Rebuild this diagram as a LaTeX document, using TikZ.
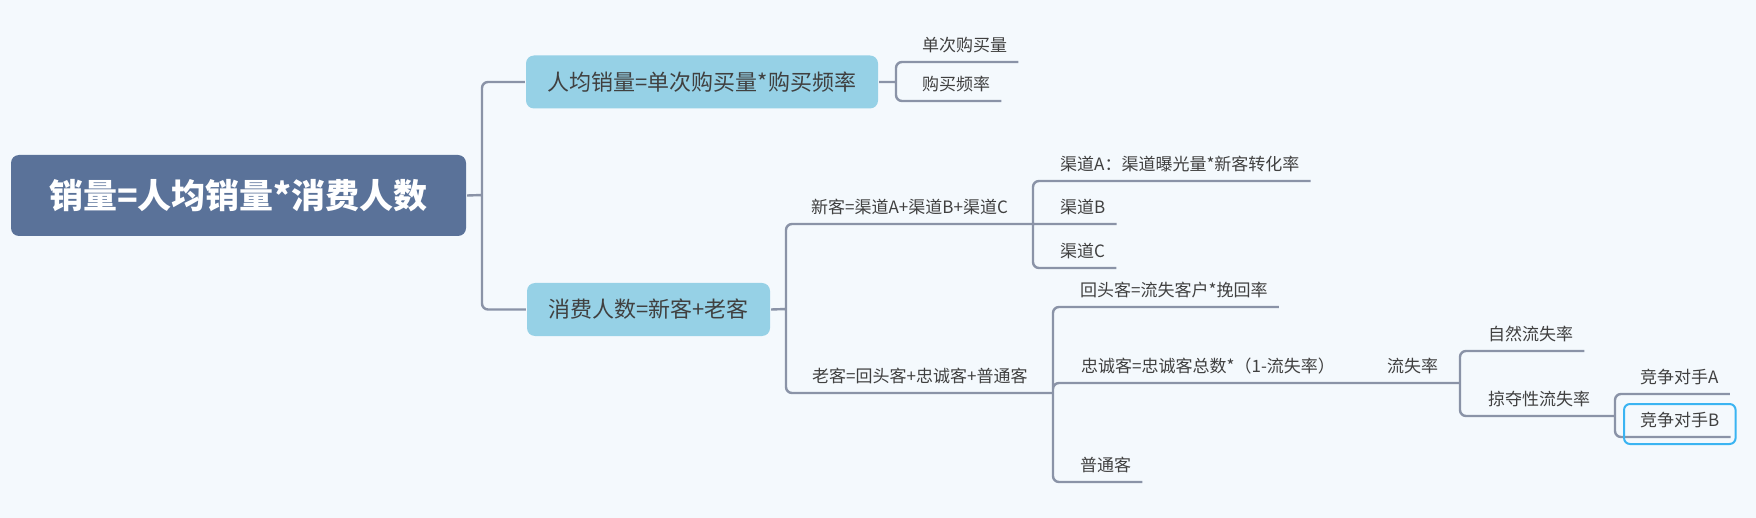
\documentclass[tikz,border=0pt]{standalone}
\usepackage{fontspec}
\setmainfont{Noto Sans CJK SC}
\usetikzlibrary{calc}
\definecolor{bgc}{HTML}{F4F9FD}
\definecolor{rootc}{HTML}{5A7299}
\definecolor{topicc}{HTML}{96D1E6}
\definecolor{linkc}{HTML}{8A93A7}
\definecolor{textc}{HTML}{404040}
\definecolor{selc}{HTML}{3AB4F2}
\begin{document}
\begin{tikzpicture}[x=0.5pt,y=-0.5pt,line width=1.2pt,
  link/.style={draw=linkc,rounded corners=3pt},
  root/.style={fill=rootc,rounded corners=4pt,text=white,font=\fontsize{17}{20}\bfseries,minimum width=227.5pt,minimum height=40.5pt},
  topic/.style={fill=topicc,rounded corners=4pt,text=textc,font=\fontsize{11}{14}\selectfont,minimum height=26.5pt},
  leaf/.style={anchor=south west,text=textc,font=\fontsize{8.5}{10}\selectfont,inner xsep=5pt,inner ysep=4.8pt,text depth=0pt}]
\useasboundingbox[fill=bgc] (0,0) rectangle (1756,518);

\node[root] (xl) at (238.5,195.5) {销量=人均销量*消费人数};
\node[topic,minimum width=176pt] (rj) at (702,82) {人均销量=单次购买量*购买频率};
\node[topic,minimum width=121.5pt] (xf) at (648.5,309.5) {消费人数=新客+老客};

\coordinate (c0) at (482,195);
\draw[link] (xl.east) -- (c0) (c0) |- (rj.west) (c0) |- (xf.west);

% per capita sales
\node[leaf] (dc) at (911,62) {单次购买量};
\node[leaf] (gm) at (911,101) {购买频率};
\coordinate (c1) at (896,82);
\draw[link] (rj.east) -- (c1) (c1) |- (dc.south east) (c1) |- (gm.south east);

% new and old customers
\node[leaf] (xk) at (800,224) {新客=渠道A+渠道B+渠道C};
\node[leaf] (lk) at (801,393) {老客=回头客+忠诚客+普通客};
\coordinate (c2) at (786,309);
\coordinate (c3) at (1033,224);
\coordinate (c4) at (1053,393);
\draw[link] (xf.east) -- (c2) (c2) |- (c3) (c2) |- (c4);

\node[leaf] (qa) at (1049,181) {渠道A：渠道曝光量*新客转化率};
\node[leaf] (qb) at (1049,224) {渠道B};
\node[leaf] (qc) at (1049,268) {渠道C};
\draw[link] (c3) |- (qa.south east) (c3) -- (qb.south east) (c3) |- (qc.south east);

\node[leaf] (ht) at (1069,307) {回头客=流失客户*挽回率};
\node[leaf] (zc) at (1070,383) {忠诚客=忠诚客总数*（1-流失率）};
\node[leaf] (ls) at (1376,383) {流失率};
\node[leaf] (pt) at (1069,482) {普通客};
\coordinate (c5) at (1460,383);
\draw[link] (c4) |- (ht.south east) (c4) |- (c5) (c4) |- (pt.south east);

% churn
\node[leaf] (zr) at (1477,351) {自然流失率};
\node[leaf] (ld) at (1477,416) {掠夺性流失率};
\coordinate (c6) at (1615,416);
\draw[link] (c5) |- (zr.south east) (c5) |- (c6);

\foreach \n/\y/\t in {ja/394/A,jb/437/B}
  \node[leaf] (\n) at (1629,\y) {竞争对手\t};
\draw[link] (c6) |- (ja.south east) (c6) |- (jb.south east);
\draw[selc,line width=1pt,rounded corners=3pt] ($(jb.south west)+(-5,7)$) rectangle ($(jb.south east)+(5,-33)$);
\end{tikzpicture}
\end{document}
